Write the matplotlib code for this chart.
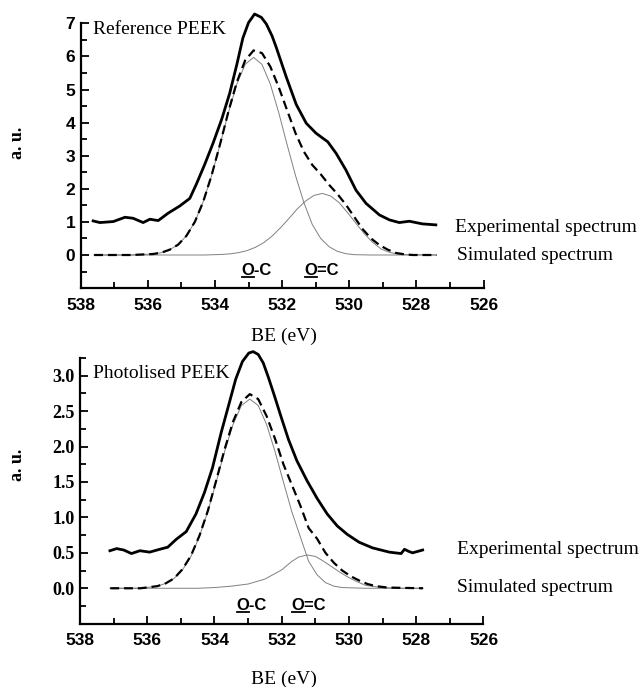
import numpy as np
import matplotlib
matplotlib.use("Agg")
import matplotlib.pyplot as plt
from matplotlib.lines import Line2D
from matplotlib.ticker import MultipleLocator

# ---- Reference PEEK (top panel) ----
ref_exp_be = [537.63, 537.43, 537.03, 536.68, 536.44, 536.14, 535.94, 535.69, 535.40, 535.05,
              534.75, 534.55, 534.30, 534.06, 533.80, 533.56, 533.35, 533.17, 533.00, 532.82,
              532.62, 532.47, 532.30, 532.18, 531.88, 531.58, 531.28, 530.99, 530.79, 530.64,
              530.39, 530.10, 529.80, 529.50, 529.10, 528.80, 528.51, 528.21, 527.82, 527.42]
ref_exp_val = [1.03, 0.98, 1.01, 1.14, 1.11, 0.98, 1.08, 1.04, 1.26, 1.48,
               1.71, 2.15, 2.75, 3.37, 4.10, 4.89, 5.75, 6.55, 7.02, 7.28,
               7.18, 6.98, 6.62, 6.29, 5.39, 4.55, 3.98, 3.68, 3.53, 3.42,
               3.07, 2.57, 1.96, 1.56, 1.21, 1.06, 0.98, 1.02, 0.94, 0.91]

ref_sim_be = [537.6, 536.5, 535.85, 535.6, 535.35, 535.1, 534.85, 534.6, 534.35, 534.1,
              533.85, 533.6, 533.35, 533.1, 532.85, 532.6, 532.35, 532.1, 531.85, 531.6,
              531.35, 531.1, 530.85, 530.6, 530.35, 530.1, 529.85, 529.6, 529.35, 529.1,
              528.85, 528.6, 528.35, 528.1, 527.4]
ref_sim_val = [0.0, 0.0, 0.03, 0.07, 0.16, 0.31, 0.58, 1.00, 1.61, 2.41,
               3.34, 4.33, 5.22, 5.88, 6.18, 6.10, 5.69, 5.07, 4.37, 3.68,
               3.12, 2.72, 2.44, 2.12, 1.84, 1.52, 1.15, 0.78, 0.50, 0.30,
               0.16, 0.06, 0.02, 0.0, 0.0]

ref_oc_be = [537.6, 536.5, 535.85, 535.6, 535.35, 535.1, 534.85, 534.6, 534.35, 534.1,
             533.85, 533.6, 533.35, 533.1, 532.85, 532.6, 532.35, 532.1, 531.85, 531.6,
             531.35, 531.1, 530.85, 530.6, 530.35, 530.1, 529.85, 529.35, 527.4]
ref_oc_val = [0.0, 0.0, 0.03, 0.07, 0.16, 0.31, 0.58, 1.00, 1.61, 2.40,
              3.33, 4.30, 5.16, 5.76, 5.97, 5.76, 5.16, 4.30, 3.33, 2.40,
              1.58, 0.92, 0.50, 0.25, 0.11, 0.04, 0.01, 0.0, 0.0]

ref_odc_be = [537.6, 534.3, 533.8, 533.55, 533.3, 533.05, 532.8, 532.55, 532.3, 532.05,
              531.8, 531.55, 531.3, 531.05, 530.8, 530.55, 530.3, 530.05, 529.8, 529.55,
              529.3, 529.05, 528.8, 528.55, 528.3, 527.4]
ref_odc_val = [0.0, 0.0, 0.017, 0.035, 0.07, 0.13, 0.23, 0.37, 0.57, 0.82,
               1.10, 1.39, 1.63, 1.80, 1.86, 1.78, 1.58, 1.28, 0.96, 0.64,
               0.38, 0.18, 0.08, 0.03, 0.01, 0.0]

# ---- Photolised PEEK (bottom panel) ----
pho_exp_be = [537.11, 536.91, 536.70, 536.47, 536.22, 535.93, 535.63, 535.39, 535.14, 534.84,
              534.55, 534.30, 534.06, 533.80, 533.57, 533.37, 533.17, 532.98, 532.85, 532.70,
              532.55, 532.40, 532.22, 532.02, 531.80, 531.55, 531.25, 530.95, 530.65, 530.35,
              530.05, 529.70, 529.30, 528.80, 528.45, 528.35, 528.22, 528.11, 527.81]
pho_exp_val = [0.53, 0.56, 0.54, 0.49, 0.53, 0.51, 0.55, 0.58, 0.69, 0.80,
               1.05, 1.35, 1.70, 2.20, 2.60, 2.95, 3.20, 3.32, 3.34, 3.30,
               3.18, 2.98, 2.72, 2.42, 2.10, 1.80, 1.52, 1.27, 1.05, 0.88,
               0.76, 0.65, 0.57, 0.51, 0.49, 0.55, 0.52, 0.50, 0.54]

pho_sim_be = [537.1, 536.2, 535.95, 535.7, 535.45, 535.2, 534.95, 534.7, 534.45, 534.2,
              533.95, 533.7, 533.45, 533.2, 532.95, 532.7, 532.45, 532.2, 531.95, 531.7,
              531.45, 531.2, 530.95, 530.7, 530.45, 530.2, 529.95, 529.7, 529.45, 529.2,
              528.85, 527.8]
pho_sim_val = [0.0, 0.0, 0.015, 0.03, 0.07, 0.14, 0.27, 0.46, 0.74, 1.09,
               1.52, 1.96, 2.35, 2.63, 2.74, 2.67, 2.43, 2.11, 1.75, 1.46,
               1.17, 0.85, 0.70, 0.50, 0.36, 0.25, 0.17, 0.11, 0.06, 0.03,
               0.01, 0.0]

pho_oc_be = [537.1, 536.2, 535.95, 535.7, 535.45, 535.2, 534.95, 534.7, 534.45, 534.2,
             533.95, 533.7, 533.45, 533.2, 532.95, 532.7, 532.45, 532.2, 531.95, 531.7,
             531.45, 531.2, 530.95, 530.7, 530.45, 530.2, 529.5, 527.8]
pho_oc_val = [0.0, 0.0, 0.015, 0.03, 0.07, 0.14, 0.26, 0.45, 0.73, 1.08,
              1.50, 1.93, 2.31, 2.58, 2.67, 2.58, 2.31, 1.93, 1.50, 1.08,
              0.73, 0.38, 0.19, 0.08, 0.03, 0.01, 0.0, 0.0]

pho_odc_be = [537.1, 534.5, 534.0, 533.5, 533.0, 532.5, 532.0, 531.7, 531.5, 531.25,
              531.0, 530.75, 530.5, 530.25, 530.0, 529.75, 529.5, 529.0, 528.5, 527.8]
pho_odc_val = [0.0, 0.0, 0.01, 0.03, 0.06, 0.13, 0.26, 0.38, 0.44, 0.47,
               0.45, 0.38, 0.30, 0.22, 0.15, 0.09, 0.04, 0.01, 0.0, 0.0]

SERIF = "Liberation Serif"
SANS = "Liberation Sans"

fig = plt.figure(figsize=(6.39, 6.87), dpi=100)
W, H = 639.0, 687.0


def px_axes(x0, x1, ytop, ybot):
    return fig.add_axes([x0 / W, 1 - ybot / H, (x1 - x0) / W, (ybot - ytop) / H])


def style_axes(ax, ylim, ymajor, yminor, yfmt, yfont):
    ax.set_xlim(538, 526)
    ax.set_ylim(*ylim)
    for s in ["top", "right"]:
        ax.spines[s].set_visible(False)
    for s in ["left", "bottom"]:
        ax.spines[s].set_linewidth(1.6)
    ax.xaxis.set_major_locator(MultipleLocator(2))
    ax.xaxis.set_minor_locator(MultipleLocator(1))
    ax.yaxis.set_major_locator(MultipleLocator(ymajor))
    ax.yaxis.set_minor_locator(MultipleLocator(yminor))
    ax.tick_params(which="both", direction="in", width=1.3)
    ax.tick_params(which="major", length=6)
    ax.tick_params(which="minor", length=4)
    ax.tick_params(axis="x", pad=7)
    ax.tick_params(axis="y", pad=4)
    ticks = [t for t in np.arange(0, ylim[1] + 1e-6, ymajor)]
    ax.set_yticks(ticks)
    ax.set_yticklabels([yfmt % t for t in ticks])
    for lab in ax.get_yticklabels():
        lab.set_fontfamily(yfont)
        lab.set_fontweight("bold")
        lab.set_fontsize(13 if yfont == SERIF else 12.5)
    ax.set_xticks(np.arange(538, 525, -2))
    ax.set_xticklabels(["%d" % v for v in np.arange(538, 525, -2)])
    for lab in ax.get_xticklabels():
        lab.set_fontfamily(SANS)
        lab.set_fontweight("bold")
        lab.set_fontsize(12.5)


def draw_panel(ax, exp_be, exp_val, sim_be, sim_val, oc_be, oc_val, odc_be, odc_val):
    ax.plot(oc_be, oc_val, color="0.5", lw=0.7, clip_on=False)
    ax.plot(odc_be, odc_val, color="0.5", lw=0.7, clip_on=False)
    ax.plot(sim_be, sim_val, color="black", lw=1.6, ls=(0, (4, 2.2)), clip_on=False)
    ax.plot(exp_be, exp_val, color="black", lw=2.0, solid_joinstyle="round", clip_on=False)


ax1 = px_axes(80.7, 483.5, 23.3, 288.1)
draw_panel(ax1, ref_exp_be, ref_exp_val, ref_sim_be, ref_sim_val,
           ref_oc_be, ref_oc_val, ref_odc_be, ref_odc_val)
style_axes(ax1, (-1, 7), 1, 0.5, "%d", SANS)

ax2 = px_axes(80.0, 483.5, 358.0, 623.7)
draw_panel(ax2, pho_exp_be, pho_exp_val, pho_sim_be, pho_sim_val,
           pho_oc_be, pho_oc_val, pho_odc_be, pho_odc_val)
style_axes(ax2, (-0.5, 3.25), 0.5, 0.25, "%.1f", SERIF)

# titles inside the panels
fig.text(93 / W, 1 - 30 / H, "Reference PEEK", family=SERIF, fontsize=14, va="center", ha="left")
fig.text(93 / W, 1 - 373 / H, "Photolised PEEK", family=SERIF, fontsize=14, va="center", ha="left")

# axis labels
for yc in [143, 465]:
    fig.text(17 / W, 1 - yc / H, "a. u.", family=SERIF, fontweight="bold", fontsize=13,
             rotation=90, va="center", ha="center")
for yc in [336, 679]:
    fig.text(284 / W, 1 - yc / H, "BE (eV)", family=SERIF, fontsize=14, va="center", ha="center")

# series captions at the right
for txt, xc, yc in [("Experimental spectrum", 455, 227), ("Simulated spectrum", 457, 256),
                    ("Experimental spectrum", 457, 550), ("Simulated spectrum", 457, 588)]:
    fig.text(xc / W, 1 - yc / H, txt, family=SERIF, fontsize=14, va="center", ha="left")

# bond labels with underlined O
bond_labels = []
for ax, xs, yv in [(ax1, [532.76, 530.83], -0.47), (ax2, [532.91, 531.19], -0.25)]:
    for x, s in zip(xs, ["O-C", "O=C"]):
        t = ax.text(x, yv, s, family=SANS, fontweight="bold", fontsize=12,
                    ha="center", va="center")
        bond_labels.append(t)

fig.canvas.draw()
renderer = fig.canvas.get_renderer()
probe = fig.text(0, 0, "O", family=SANS, fontweight="bold", fontsize=12)
o_width = probe.get_window_extent(renderer).width
probe.remove()
for t in bond_labels:
    bb = t.get_window_extent(renderer)
    y = bb.y0 + 1.5
    (fx0, fy), (fx1, _) = fig.transFigure.inverted().transform([(bb.x0 + 0.5, y), (bb.x0 + o_width, y)])
    fig.add_artist(Line2D([fx0, fx1], [fy, fy], transform=fig.transFigure, color="black", lw=1.3))

fig.savefig("out.png", dpi=100)
